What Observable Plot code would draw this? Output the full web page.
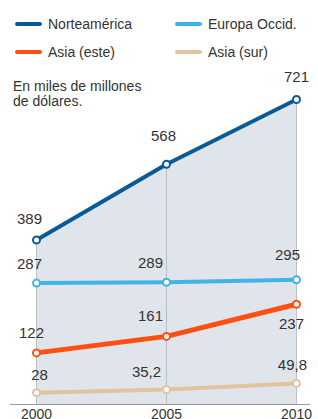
<!DOCTYPE html>
<html>
<head>
<meta charset="utf-8">
<script src="https://cdn.jsdelivr.net/npm/d3@7"></script>
<script src="https://cdn.jsdelivr.net/npm/@observablehq/plot@0.6"></script>
<style>
  html, body { margin: 0; padding: 0; background: #fff; }
  #wrap { position: relative; width: 318px; height: 419px; font-family: "Liberation Sans", Arial, sans-serif; color: #333; }
  #wrap svg { position: absolute; left: 0; top: 0; }
  .leg { position: absolute; font-size: 14px; line-height: 16px; white-space: nowrap; }
  .sw { position: absolute; width: 27px; height: 4px; border-radius: 2px; }
  #sub { position: absolute; left: 13px; top: 79px; font-size: 14px; line-height: 15px; }
</style>
</head>
<body>
<div id="wrap"></div>
<script>
const years = [2000, 2005, 2010];
const seriesNames = ["Norteamérica", "Europa Occid.", "Asia (este)", "Asia (sur)"];
const norteamerica = [389, 568, 721];
const europaOccid = [287, 289, 295];
const asiaEste = [122, 161, 237];
const asiaSur = [28, 35.2, 49.8];
const seriesValues = [norteamerica, europaOccid, asiaEste, asiaSur];
const colors = ["#0b5a98", "#3fb5e6", "#ff4f12", "#e2c39f"];
const subtitle = ["En miles de millones", "de dólares."];

// label offsets (style, px) per series per year
const labelDx = [[-7, -3, 0], [-7, -16, -9], [-5, -16, -5], [3, -20, -4]];
const labelDy = [[-21, -28, -22], [-19, -19, -25], [-20, -20, 20], [-17, -17, -18]];

const fmt = v => String(v).replace(".", ",");

const rows = [];
seriesNames.forEach((s, i) => years.forEach((y, j) => rows.push({series: s, year: y, value: seriesValues[i][j], si: i, yj: j})));
const nData = rows.filter(d => d.si === 0);

const marks = [
  Plot.areaY(nData, {x: "year", y: "value", fill: "#dfe5ea"}),
  Plot.ruleX(nData, {x: "year", y1: 0, y2: "value", stroke: "#b9c0c6", strokeWidth: 1}),
  Plot.ruleY([0], {stroke: "#999", strokeWidth: 1})
];
seriesNames.slice().reverse().forEach(s => {
  const i = seriesNames.indexOf(s);
  const d = rows.filter(r => r.si === i);
  marks.push(Plot.line(d, {x: "year", y: "value", stroke: colors[i], strokeWidth: i === 2 ? 5 : 4, strokeLinecap: "round", strokeLinejoin: "round"}));
  marks.push(Plot.dot(d, {x: "year", y: "value", r: 3.5, fill: "white", stroke: colors[i], strokeWidth: 2}));
});
rows.forEach(r => {
  marks.push(Plot.text([r], {x: "year", y: "value", text: d => fmt(d.value), dx: labelDx[r.si][r.yj], dy: labelDy[r.si][r.yj], fill: "#333", fontSize: 15}));
});

const chart = Plot.plot({
  width: 318,
  height: 419,
  marginLeft: 10,
  marginRight: 8,
  marginTop: 99,
  marginBottom: 15,
  style: {fontFamily: "Liberation Sans, Arial, sans-serif", background: "transparent", color: "#333"},
  x: {domain: [1999, 2010.54], ticks: years, tickFormat: d => String(d), tickSize: 0, tickPadding: 6, label: null, fontSize: 14},
  y: {domain: [0, 721], axis: null},
  marks: [
    ...marks,
    Plot.axisX({ticks: years, tickFormat: d => String(d), tickSize: 0, tickPadding: 5, label: null, fontSize: 14, fill: "#333"})
  ]
});

const wrap = document.getElementById("wrap");
wrap.appendChild(chart);

const legPos = [[15, 24], [175, 24], [15, 52], [175, 52]];
seriesNames.forEach((s, i) => {
  const sw = document.createElement("div");
  sw.className = "sw";
  sw.style.left = legPos[i][0] + "px";
  sw.style.top = (legPos[i][1] - 2) + "px";
  sw.style.background = colors[i];
  wrap.appendChild(sw);
  const t = document.createElement("div");
  t.className = "leg";
  t.style.left = (legPos[i][0] + 33) + "px";
  t.style.top = (legPos[i][1] - 8) + "px";
  t.textContent = s;
  wrap.appendChild(t);
});
const sub = document.createElement("div");
sub.id = "sub";
sub.innerHTML = subtitle.join("<br>");
wrap.appendChild(sub);
</script>
</body>
</html>
